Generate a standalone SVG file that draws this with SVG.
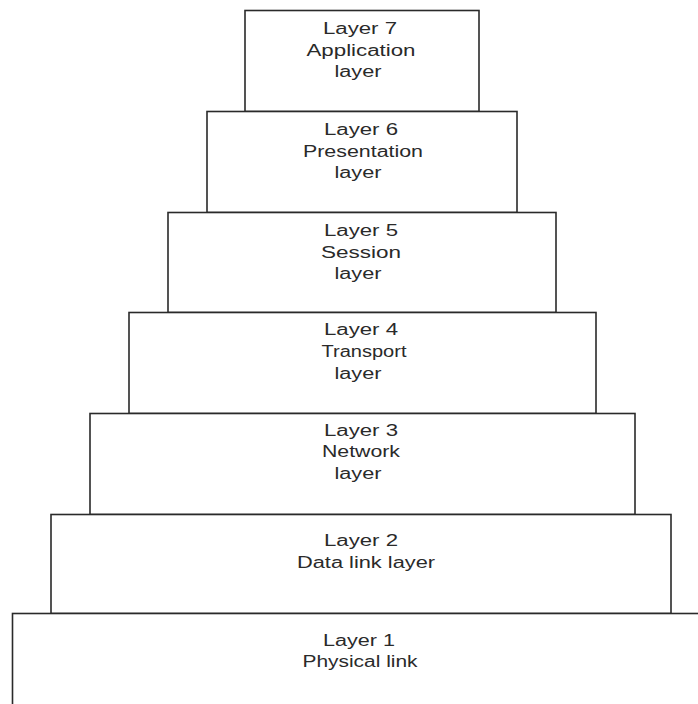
<svg xmlns="http://www.w3.org/2000/svg" width="698" height="704" viewBox="0 0 698 704">
<style>
.box{fill:#fff;stroke:#2a2a2a;stroke-width:1.6}
.t{font-family:"Liberation Sans",Arial,sans-serif;font-size:16px;fill:#2a2a2a;text-anchor:middle}
</style>
<rect width="698" height="704" fill="#fff"/>
<g id="connectors"/>
<g id="layer7">
<rect class="box" x="245" y="10.5" width="234" height="101"/>
<text class="t" x="360" y="34" textLength="74" lengthAdjust="spacingAndGlyphs">Layer 7</text>
<text class="t" x="361" y="56" textLength="109" lengthAdjust="spacingAndGlyphs">Application</text>
<text class="t" x="358" y="77" textLength="47" lengthAdjust="spacingAndGlyphs">layer</text>
</g>
<g id="layer6">
<rect class="box" x="207" y="111.5" width="310" height="101"/>
<text class="t" x="361" y="135" textLength="74" lengthAdjust="spacingAndGlyphs">Layer 6</text>
<text class="t" x="363" y="157" textLength="120" lengthAdjust="spacingAndGlyphs">Presentation</text>
<text class="t" x="358" y="178" textLength="47" lengthAdjust="spacingAndGlyphs">layer</text>
</g>
<g id="layer5">
<rect class="box" x="168" y="212.5" width="388" height="100"/>
<text class="t" x="361" y="236" textLength="74" lengthAdjust="spacingAndGlyphs">Layer 5</text>
<text class="t" x="361" y="258" textLength="80" lengthAdjust="spacingAndGlyphs">Session</text>
<text class="t" x="358" y="279" textLength="47" lengthAdjust="spacingAndGlyphs">layer</text>
</g>
<g id="layer4">
<rect class="box" x="129" y="312.5" width="467" height="101"/>
<text class="t" x="361" y="335" textLength="74" lengthAdjust="spacingAndGlyphs">Layer 4</text>
<text class="t" x="364" y="357" textLength="85" lengthAdjust="spacingAndGlyphs">Transport</text>
<text class="t" x="358" y="379" textLength="47" lengthAdjust="spacingAndGlyphs">layer</text>
</g>
<g id="layer3">
<rect class="box" x="90" y="413.5" width="545" height="101"/>
<text class="t" x="361" y="436" textLength="74" lengthAdjust="spacingAndGlyphs">Layer 3</text>
<text class="t" x="361" y="457" textLength="78" lengthAdjust="spacingAndGlyphs">Network</text>
<text class="t" x="358" y="479" textLength="47" lengthAdjust="spacingAndGlyphs">layer</text>
</g>
<g id="layer2">
<rect class="box" x="51" y="514.5" width="620" height="99"/>
<text class="t" x="361" y="546" textLength="74" lengthAdjust="spacingAndGlyphs">Layer 2</text>
<text class="t" x="366" y="568" textLength="138" lengthAdjust="spacingAndGlyphs">Data link layer</text>
</g>
<g id="layer1">
<rect class="box" x="12.5" y="613.5" width="700" height="100"/>
<text class="t" x="359" y="646" textLength="72" lengthAdjust="spacingAndGlyphs">Layer 1</text>
<text class="t" x="360" y="667" textLength="115" lengthAdjust="spacingAndGlyphs">Physical link</text>
</g>
</svg>
